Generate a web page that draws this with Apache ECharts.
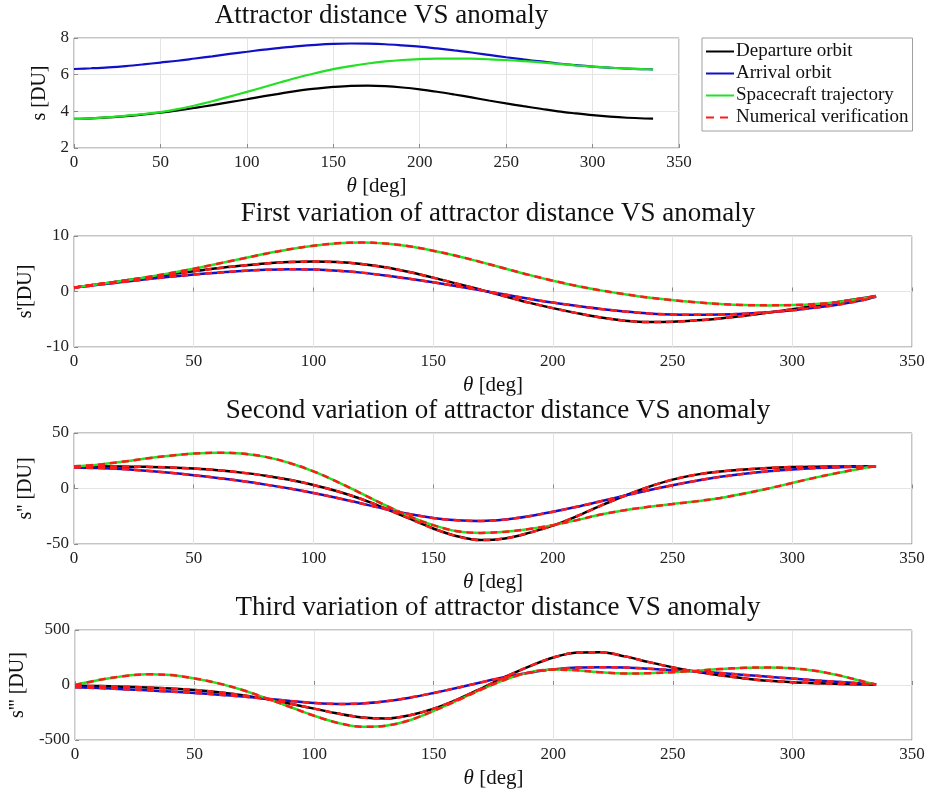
<!DOCTYPE html>
<html>
<head>
<meta charset="utf-8">
<script src="https://cdn.jsdelivr.net/npm/echarts@6/dist/echarts.min.js"></script>
<style>
html,body{margin:0;padding:0;background:#fff;}
#c{width:930px;height:791px;}
</style>
</head>
<body>
<div id="c"></div>
<script>
// ---------- data ----------
const theta = [0,10,20,30,40,50,60,70,80,90,100,110,120,130,140,150,160,170,180,190,200,210,220,230,240,250,260,270,280,290,300,310,320,330,335];

// panel 1: s [DU]
const sDep = [3.59,3.62,3.67,3.74,3.83,3.93,4.05,4.19,4.34,4.50,4.66,4.83,4.98,5.13,5.24,5.33,5.39,5.40,5.37,5.30,5.20,5.07,4.92,4.76,4.59,4.43,4.28,4.14,4.00,3.89,3.79,3.71,3.65,3.61,3.60];
const sArr = [6.31,6.35,6.40,6.47,6.56,6.66,6.76,6.88,7.00,7.13,7.25,7.37,7.47,7.56,7.63,7.68,7.70,7.69,7.66,7.60,7.53,7.43,7.32,7.21,7.08,6.95,6.83,6.72,6.61,6.52,6.44,6.38,6.33,6.30,6.29];
const sSc  = [3.59,3.62,3.68,3.76,3.85,3.96,4.12,4.32,4.55,4.80,5.06,5.33,5.60,5.86,6.09,6.30,6.47,6.61,6.72,6.80,6.85,6.88,6.88,6.87,6.84,6.80,6.74,6.67,6.59,6.51,6.44,6.38,6.33,6.30,6.29];

// panel 2: s' [DU]
const d1Dep = [0.7,1.3,1.9,2.5,3.1,3.65,4.2,4.65,5.05,5.3,5.4,5.3,4.95,4.35,3.5,2.5,1.4,0.3,-0.85,-2.0,-3.0,-3.9,-4.7,-5.25,-5.5,-5.45,-5.2,-4.85,-4.35,-3.8,-3.2,-2.55,-1.85,-1.15,-0.8];
const d1Arr = [0.7,1.2,1.7,2.2,2.65,3.05,3.4,3.7,3.9,4.0,3.95,3.75,3.4,2.9,2.3,1.65,0.95,0.2,-0.55,-1.3,-2.0,-2.6,-3.15,-3.6,-3.95,-4.15,-4.2,-4.15,-4.0,-3.75,-3.4,-2.9,-2.3,-1.5,-0.9];
const d1Sc  = [0.7,1.3,1.9,2.55,3.3,4.1,5.0,5.9,6.8,7.6,8.25,8.7,8.85,8.65,8.15,7.35,6.4,5.3,4.15,3.0,1.95,1.0,0.2,-0.5,-1.1,-1.55,-1.95,-2.25,-2.45,-2.5,-2.45,-2.25,-1.85,-1.2,-0.85];

// panel 3: s'' [DU]
const d2Dep = [20,20,19.8,19.5,19,18,16.5,14.3,11.5,7.8,3.2,-2.5,-9.5,-18,-27,-36,-43,-46.5,-45,-40,-33.5,-25,-15.5,-6.5,1.5,8,12.5,15.3,17.2,18.5,19.3,19.7,19.9,20,20];
const d2Arr = [19,18.5,17.5,16,14.2,12,9.5,6.7,3.5,0,-4,-8.5,-13.5,-18.5,-23,-26.5,-28.7,-29.3,-28,-25,-21,-16.5,-11.5,-6.5,-1.5,3,7,10.5,13.3,15.5,17.2,18.4,19.2,19.7,19.8];
const d2Sc  = [20,21.5,24,27,29.5,31.5,32.3,31.5,28.5,23,15.5,6,-4.5,-15,-25,-33,-38.5,-40,-39,-36.5,-33,-28.5,-23.5,-19.5,-16.5,-14,-11.5,-8.5,-4.5,0,5,10,14.5,18.5,20];

// panel 4: s''' [DU]
const d3Dep = [-5,-10,-15,-22,-32,-45,-65,-92,-128,-170,-215,-260,-295,-305,-275,-215,-130,-30,75,170,250,295,298,260,208,160,120,88,60,38,25,17,10,5,3];
const d3Arr = [-20,-28,-38,-48,-60,-73,-88,-105,-125,-145,-163,-172,-168,-148,-115,-72,-25,25,72,112,142,158,162,158,148,135,122,108,92,75,58,42,27,12,5];
const d3Sc  = [0,45,80,97,90,60,15,-45,-120,-200,-280,-345,-380,-370,-320,-235,-140,-40,50,115,140,133,115,105,107,117,130,145,157,160,152,128,85,30,5];

const xTicks = [0,50,100,150,200,250,300,350];
const titles = ['Attractor distance VS anomaly','First variation of attractor distance VS anomaly','Second variation of attractor distance VS anomaly','Third variation of attractor distance VS anomaly'];
const yNames = ['s [DU]',"s'[DU]","s'' [DU]","s''' [DU]"];
const yRanges = [[2,8,2],[-10,10,10],[-50,50,50],[-500,500,500]];
const names = ['Departure orbit','Arrival orbit','Spacecraft trajectory','Numerical verification'];

// ---------- layout ----------
const FONT = '"Liberation Serif", "DejaVu Serif", serif';
const grids = [
  {left:74, top:38, width:605, height:110},
  {left:74, top:236, width:838, height:111},
  {left:74, top:433, width:838, height:111},
  {left:74, top:630, width:838, height:110}
];
const yNameGap = [15, 29, 29, 37];
const colors = ['#000000','#1010c8','#22e022','#ff1a1a'];

const pair = arr => theta.map((t,i)=>[t,arr[i]]);
const panelData = [[sDep,sArr,sSc],[d1Dep,d1Arr,d1Sc],[d2Dep,d2Arr,d2Sc],[d3Dep,d3Arr,d3Sc]];

const option = {
  animation:false,
  backgroundColor:'#fff',
  title: grids.map((g,i)=>({
    text:titles[i], left:g.left+g.width/2, top:g.top-41, textAlign:'center',
    textStyle:{fontFamily:FONT,fontSize:27,fontWeight:'normal',color:'#111'}
  })),
  grid: grids.map(g=>Object.assign({show:true,borderColor:'#8a8a8a',borderWidth:1,backgroundColor:'#fff'},g)),
  legend:{
    orient:'vertical', left:702, top:38,
    data:[
      {name:names[0]},
      {name:names[1]},
      {name:names[2]},
      {name:names[3], lineStyle:{type:[8,6], width:2}}
    ],
    itemWidth:28, itemHeight:2, itemGap:3,
    itemStyle:{opacity:0},
    lineStyle:{width:2},
    padding:[4,4,4,3],
    borderColor:'#a0a0a0', borderWidth:1, backgroundColor:'#fff',
    textStyle:{fontFamily:FONT,fontSize:19,color:'#111',padding:[0,0,0,-3]}
  },
  xAxis: grids.map((g,i)=>({
    type:'value', gridIndex:i, min:0, max:350, interval:50,
    name:'{it|θ} [deg]', nameLocation:'middle', nameGap:28,
    nameTextStyle:{fontFamily:FONT,fontSize:21,color:'#111',rich:{it:{fontFamily:FONT,fontStyle:'italic',fontSize:21,color:'#111'}}},
    axisLine:{show:false},
    axisTick:{show:true,inside:true,length:4,lineStyle:{color:'#8a8a8a'}},
    axisLabel:{fontFamily:FONT,fontSize:17,color:'#222',margin:6},
    splitLine:{show:true,lineStyle:{color:'#e4e4e4',width:1}}
  })),
  yAxis: grids.map((g,i)=>({
    type:'value', gridIndex:i, min:yRanges[i][0], max:yRanges[i][1], interval:yRanges[i][2],
    name:yNames[i], nameLocation:'middle', nameGap:yNameGap[i], nameRotate:90,
    nameTextStyle:{fontFamily:FONT,fontSize:20,color:'#111'},
    axisLine:{show:false},
    axisTick:{show:true,inside:true,length:4,lineStyle:{color:'#8a8a8a'}},
    axisLabel:{fontFamily:FONT,fontSize:17,color:'#222',margin:5},
    splitLine:{show:true,lineStyle:{color:'#e4e4e4',width:1}}
  })),
  series: []
};

panelData.forEach((set,p)=>{
  set.forEach((arr,k)=>{
    option.series.push({
      type:'line', name:names[k], xAxisIndex:p, yAxisIndex:p,
      data:pair(arr), smooth:0.35, symbol:'none', z:2,
      lineStyle:{color:colors[k], width:p===0?2.2:2.5},
      itemStyle:{color:colors[k]}
    });
  });
});
// numerical verification overlays (panels 2-4)
for(let p=1;p<4;p++){
  panelData[p].forEach(arr=>{
    option.series.push({
      type:'line', name:names[3], xAxisIndex:p, yAxisIndex:p,
      data:pair(arr), smooth:0.35, symbol:'none', z:3,
      lineStyle:{color:colors[3], width:2.5, type:[7,5]},
      itemStyle:{color:colors[3]}
    });
  });
}

const chart = echarts.init(document.getElementById('c'), null, {renderer:'canvas'});
chart.setOption(option);
</script>
</body>
</html>
